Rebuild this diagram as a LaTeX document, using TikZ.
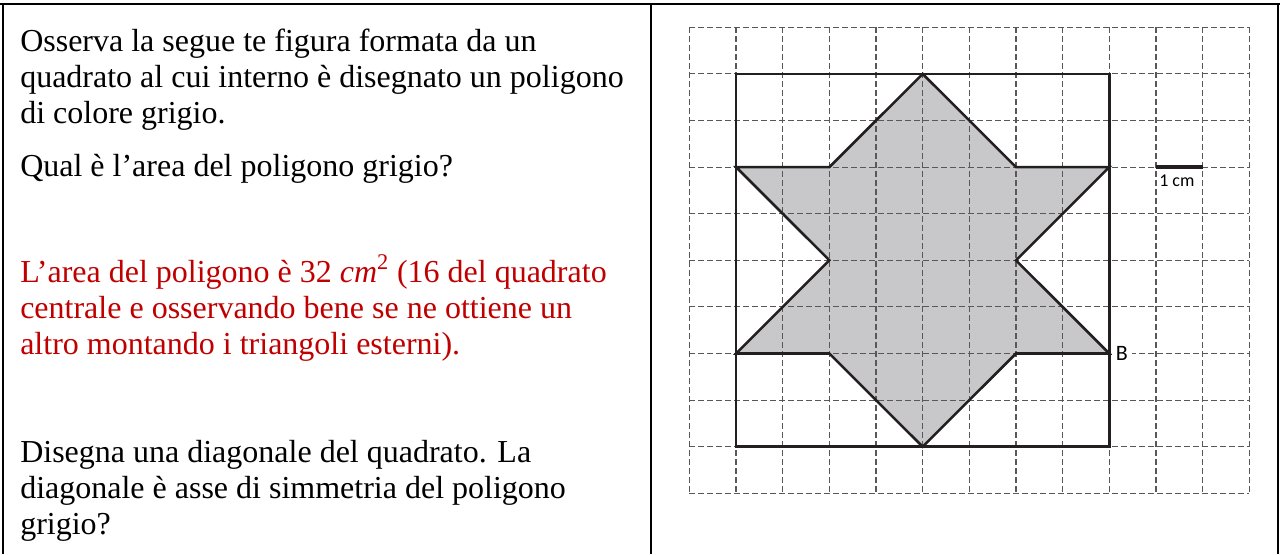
\documentclass[tikz,border=0pt]{standalone}
\usepackage{fontspec}
\setmainfont{Liberation Serif}
\newfontfamily\calib{Carlito}
\definecolor{ansred}{HTML}{C00000}
\definecolor{starfill}{HTML}{C8C8CA}
\definecolor{gridcol}{HTML}{585858}
\definecolor{inkcol}{HTML}{231F20}
\begin{document}
\begin{tikzpicture}[x=0.75pt,y=-0.75pt,
  txt/.style={anchor=base west, inner sep=0pt, font=\fontsize{24pt}{27pt}\selectfont},
  redtxt/.style={txt, text=ansred},
  border/.style={line width=1.5pt, black},
  gridline/.style={draw=gridcol, line width=0.85pt, dash pattern=on 4.5pt off 2.25pt},
  outline/.style={draw=inkcol, line width=1.9pt, line join=miter},
  scalebar/.style={draw=inkcol, line width=2.6pt},
  smalllbl/.style={font=\calib\fontsize{13.5pt}{13.5pt}\selectfont, inner sep=0pt}]
\useasboundingbox (0,0) rectangle (1280,554);
% table borders
\draw[border] (0,3.7) -- (1280,3.7);
\draw[border] (2.5,3) -- (2.5,554);
\draw[border] (650.5,3) -- (650.5,554);
\draw[border] (1277.5,3) -- (1277.5,554);
% left column text
\node[txt] (l1) at (20,51) {Osserva la segue te figura formata da un};
\node[txt] (l2) at (20,87) {quadrato al cui interno è disegnato un poligono};
\node[txt] (l3) at (20,123) {di colore grigio.};
\node[txt] (l4) at (20,176) {Qual è l’area del poligono grigio?};
\node[redtxt] (r1) at (20,282) {L’area del poligono è 32 \textit{cm}\textsuperscript{2} (16 del quadrato};
\node[redtxt] (r2) at (20,318) {centrale e osservando bene se ne ottiene un};
\node[redtxt] (r3) at (20,354) {altro montando i triangoli esterni).};
\node[txt] (d1) at (20,462) {Disegna una diagonale del quadrato. La};
\node[txt] (d2) at (20,498) {diagonale è asse di simmetria del poligono};
\node[txt] (d3) at (20,534) {grigio?};
% figure
\begin{scope}[shift={(689.4,27.3)}, x=34.99pt, y=-34.95pt]
  \fill[starfill] (5,1) -- (7,3) -- (9,3) -- (7,5) -- (9,7) -- (7,7) -- (5,9)
     -- (3,7) -- (1,7) -- (3,5) -- (1,3) -- (3,3) -- cycle;
  \foreach \i in {0,...,12} \draw[gridline] (\i,0) -- (\i,10);
  \foreach \j in {0,...,10} \draw[gridline] (0,\j) -- (12,\j);
  \draw[outline] (1,1) rectangle (9,9);
  \draw[outline] (5,1) -- (7,3) -- (9,3) -- (7,5) -- (9,7) -- (7,7) -- (5,9)
     -- (3,7) -- (1,7) -- (3,5) -- (1,3) -- (3,3) -- cycle;
  \coordinate (barA) at (10,3);
  \coordinate (barB) at (11,3);
  \draw[scalebar] (barA) -- (barB);
  \node[font=\calib\fontsize{16.5pt}{16.5pt}\selectfont, fill=white, inner xsep=3pt, inner ysep=1pt]
     (lblB) at (9.27,7) {B};
\end{scope}
\node[smalllbl, anchor=base west] (lblcm) at (1159,186) {1 cm};
\end{tikzpicture}
\end{document}
